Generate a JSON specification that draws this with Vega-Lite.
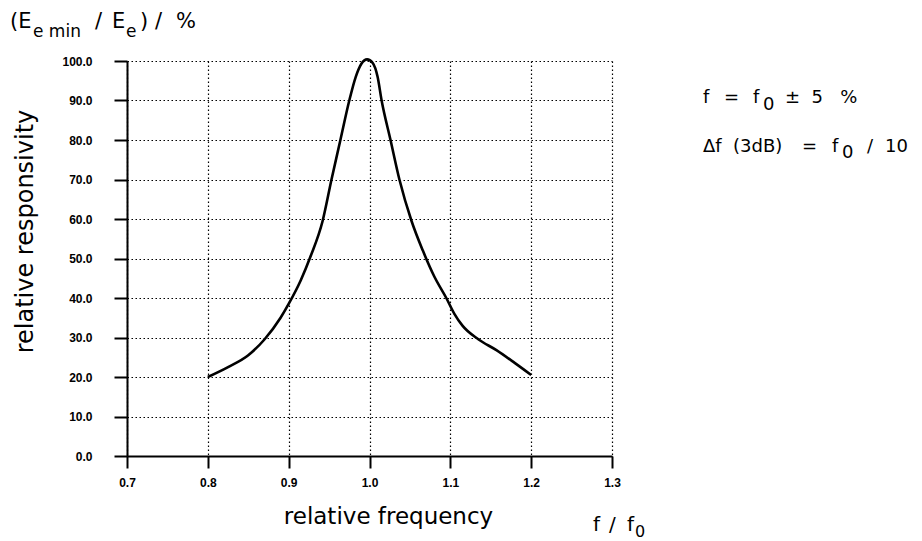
{
  "$schema": "https://vega.github.io/schema/vega-lite/v6.json",
  "autosize": "none",
  "width": 485,
  "height": 395,
  "padding": {"left": 127, "top": 61, "right": 310, "bottom": 85},
  "background": "white",
  "config": {
    "view": {"stroke": null},
    "axis": {
      "domainColor": "black",
      "domainWidth": 2,
      "tickColor": "black",
      "tickWidth": 2,
      "gridColor": "black",
      "gridWidth": 1.2,
      "gridDash": [1.5, 2.5],
      "gridOpacity": 1,
      "labelColor": "black",
      "labelFont": "Liberation Sans",
      "labelFontWeight": "bold",
      "labelFontSize": 12,
      "labelOverlap": false,
      "labelFlush": false,
      "titleColor": "black",
      "titleFont": "DejaVu Sans",
      "titleFontWeight": "normal"
    }
  },
  "datasets": {
    "curve": [
      {"f": 0.8, "r": 20},
      {"f": 0.825, "r": 22.5},
      {"f": 0.85, "r": 25.5},
      {"f": 0.87, "r": 29.5},
      {"f": 0.89, "r": 35},
      {"f": 0.9, "r": 38.5},
      {"f": 0.915, "r": 44.5},
      {"f": 0.927, "r": 50.5},
      {"f": 0.942, "r": 59.5},
      {"f": 0.953, "r": 70},
      {"f": 0.964, "r": 80},
      {"f": 0.975, "r": 90},
      {"f": 0.983, "r": 96},
      {"f": 0.99, "r": 99.3},
      {"f": 0.997, "r": 100.4},
      {"f": 1.004, "r": 99.5},
      {"f": 1.01, "r": 96},
      {"f": 1.015, "r": 90},
      {"f": 1.026, "r": 80},
      {"f": 1.037, "r": 70},
      {"f": 1.052, "r": 59.5},
      {"f": 1.066, "r": 52},
      {"f": 1.08, "r": 45.5},
      {"f": 1.095, "r": 40},
      {"f": 1.105, "r": 36},
      {"f": 1.115, "r": 33},
      {"f": 1.135, "r": 29.5},
      {"f": 1.157, "r": 26.8},
      {"f": 1.18, "r": 23.5},
      {"f": 1.2, "r": 20.5}
    ],
    "texts": [
      {"f": 0.55526, "r": 108.35, "t": "(E", "kind": "title"},
      {"f": 0.58371, "r": 106.08, "t": "e min", "kind": "titlesub"},
      {"f": 0.66041, "r": 108.35, "t": "/", "kind": "title"},
      {"f": 0.68144, "r": 108.35, "t": "E", "kind": "title"},
      {"f": 0.69876, "r": 106.08, "t": "e", "kind": "titlesub"},
      {"f": 0.71608, "r": 108.35, "t": ")", "kind": "title"},
      {"f": 0.73464, "r": 108.35, "t": "/", "kind": "title"},
      {"f": 0.76062, "r": 108.35, "t": "%", "kind": "title"},
      {"f": 1.41258, "r": 89.37, "t": "f", "kind": "note"},
      {"f": 1.43857, "r": 89.37, "t": "=", "kind": "note"},
      {"f": 1.47443, "r": 89.37, "t": "f", "kind": "note"},
      {"f": 1.4868, "r": 87.59, "t": "0", "kind": "note"},
      {"f": 1.51402, "r": 89.37, "t": "±\u00a0\u00a05\u00a0\u00a0\u00a0%", "kind": "note"},
      {"f": 1.41258, "r": 76.96, "t": "Δf\u00a0\u00a0(3dB)", "kind": "note"},
      {"f": 1.53505, "r": 76.96, "t": "=", "kind": "note"},
      {"f": 1.57217, "r": 76.96, "t": "f", "kind": "note"},
      {"f": 1.58454, "r": 75.44, "t": "0", "kind": "note"},
      {"f": 1.61547, "r": 76.96, "t": "/", "kind": "note"},
      {"f": 1.63773, "r": 76.96, "t": "10", "kind": "note"},
      {"f": 1.2765, "r": -18.99, "t": "f", "kind": "unit"},
      {"f": 1.29629, "r": -18.99, "t": "/", "kind": "unit"},
      {"f": 1.31856, "r": -18.99, "t": "f", "kind": "unit"},
      {"f": 1.32845, "r": -20.6, "t": "0", "kind": "unitsub"}
    ]
  },
  "encoding": {
    "x": {
      "field": "f",
      "type": "quantitative",
      "scale": {"domain": [0.7, 1.3], "nice": false, "zero": false},
      "axis": {
        "values": [0.7, 0.8, 0.9, 1.0, 1.1, 1.2, 1.3],
        "format": ".1f",
        "tickSize": 12,
        "labelPadding": 9,
        "title": "relative frequency",
        "titleFontSize": 23,
        "titleX": 261,
        "titleY": 67,
        "titleBaseline": "alphabetic",
        "titleAlign": "center"
      }
    },
    "y": {
      "field": "r",
      "type": "quantitative",
      "scale": {"domain": [0, 100], "nice": false},
      "axis": {
        "values": [0, 10, 20, 30, 40, 50, 60, 70, 80, 90, 100],
        "format": ".1f",
        "tickSize": 13,
        "labelPadding": 22,
        "title": "relative responsivity",
        "titleFontSize": 24,
        "titleAngle": -90,
        "titleX": -95,
        "titleY": 170,
        "titleBaseline": "alphabetic",
        "titleAlign": "center"
      }
    }
  },
  "layer": [
    {
      "data": {"name": "curve"},
      "mark": {"type": "line", "color": "black", "strokeWidth": 2.6, "interpolate": "monotone"}
    },
    {
      "data": {"name": "texts"},
      "transform": [{"filter": "datum.kind === 'title'"}],
      "mark": {"type": "text", "align": "left", "baseline": "alphabetic", "font": "DejaVu Sans", "fontSize": 21, "color": "black"},
      "encoding": {"text": {"field": "t"}}
    },
    {
      "data": {"name": "texts"},
      "transform": [{"filter": "datum.kind === 'titlesub'"}],
      "mark": {"type": "text", "align": "left", "baseline": "alphabetic", "font": "DejaVu Sans", "fontSize": 17, "color": "black"},
      "encoding": {"text": {"field": "t"}}
    },
    {
      "data": {"name": "texts"},
      "transform": [{"filter": "datum.kind === 'note'"}],
      "mark": {"type": "text", "align": "left", "baseline": "alphabetic", "font": "DejaVu Sans", "fontSize": 18, "color": "black"},
      "encoding": {"text": {"field": "t"}}
    },
    {
      "data": {"name": "texts"},
      "transform": [{"filter": "datum.kind === 'unit'"}],
      "mark": {"type": "text", "align": "left", "baseline": "alphabetic", "font": "DejaVu Sans", "fontSize": 20, "color": "black"},
      "encoding": {"text": {"field": "t"}}
    },
    {
      "data": {"name": "texts"},
      "transform": [{"filter": "datum.kind === 'unitsub'"}],
      "mark": {"type": "text", "align": "left", "baseline": "alphabetic", "font": "DejaVu Sans", "fontSize": 16, "color": "black"},
      "encoding": {"text": {"field": "t"}}
    }
  ]
}
